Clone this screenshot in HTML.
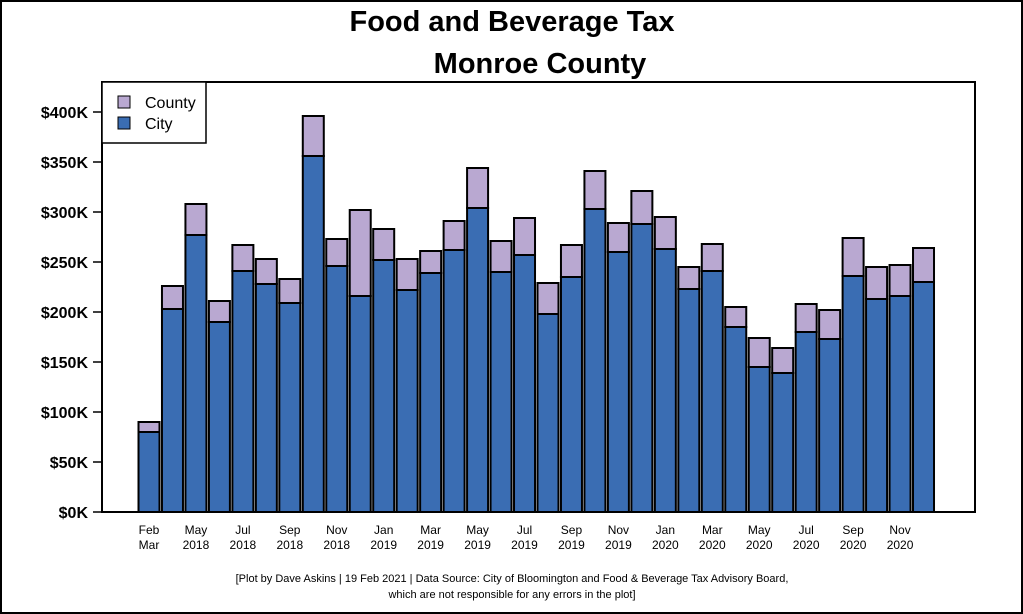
<!DOCTYPE html>
<html><head><meta charset="utf-8"><style>
body{margin:0;background:#fff;}
svg{display:block;font-family:"Liberation Sans",Arial,sans-serif;}
</style></head><body>
<svg id="chart" width="1023" height="614" viewBox="0 0 1023 614">
<rect x="1" y="1" width="1021" height="612" fill="#fff" stroke="#000" stroke-width="2"/>
<text x="512" y="31" text-anchor="middle" font-size="29" font-weight="bold">Food and Beverage Tax</text>
<text x="540" y="73" text-anchor="middle" font-size="29" font-weight="bold">Monroe County</text>
<rect x="102" y="82" width="873" height="430" fill="none" stroke="#000" stroke-width="2"/>
<g id="bars"></g>
<g id="yaxis"></g>
<g id="xaxis"></g>
<g>
<rect x="102" y="82" width="104" height="61" fill="#fff" stroke="#000" stroke-width="1.5"/>
<rect x="118" y="96" width="12" height="12" fill="#b9a8d1" stroke="#000"/>
<text x="145" y="108" font-size="16">County</text>
<rect x="118" y="117" width="12" height="12" fill="#3a6db3" stroke="#000"/>
<text x="145" y="129" font-size="16">City</text>
</g>
<text x="512" y="582" text-anchor="middle" font-size="11">[Plot by Dave Askins | 19 Feb 2021 | Data Source: City of Bloomington and Food &amp; Beverage Tax Advisory Board,</text>
<text x="512" y="598" text-anchor="middle" font-size="11">which are not responsible for any errors in the plot]</text>
</svg>
<script>
const cityValues=[80,203,277,190,241,228,209,356,246,216,252,222,239,262,304,240,257,198,235,303,260,288,263,223,241,185,145,139,180,173,236,213,216,230];
const totalValues=[90,226,308,211,267,253,233,396,273,302,283,253,261,291,344,271,294,229,267,341,289,321,295,245,268,205,174,164,208,202,274,245,247,264];
const xLabelTop=["Feb","May","Jul","Sep","Nov","Jan","Mar","May","Jul","Sep","Nov","Jan","Mar","May","Jul","Sep","Nov"];
const xLabelBottom=["Mar","2018","2018","2018","2018","2019","2019","2019","2019","2019","2019","2020","2020","2020","2020","2020","2020"];
const yTicks=[0,50,100,150,200,250,300,350,400];
const yLabels=["$0K","$50K","$100K","$150K","$200K","$250K","$300K","$350K","$400K"];
const NS="http://www.w3.org/2000/svg";
const y=v=>512-v;
const pitch=23.47, x0=138.5, bw=21;
const xb=i=>x0+i*pitch;
function mk(t,a,p){const e=document.createElementNS(NS,t);for(const k in a)e.setAttribute(k,a[k]);p.appendChild(e);return e;}
const bars=document.getElementById('bars');
cityValues.forEach((c,i)=>{
 const r=mk('rect',{x:xb(i),y:y(c),width:bw,height:c,fill:'#3a6db3',stroke:'#000','stroke-width':2},bars);
 
 
 const t=totalValues[i];
 const r2=mk('rect',{x:xb(i),y:y(t),width:bw,height:t-c,fill:'#b9a8d1',stroke:'#000','stroke-width':2},bars);
 
 
});
const ya=document.getElementById('yaxis');
yTicks.forEach((v,i)=>{
 mk('line',{x1:93,x2:102,y1:y(v),y2:y(v),stroke:'#000','stroke-width':1.5},ya);
 const t=mk('text',{x:88,y:y(v)+6,'text-anchor':'end','font-size':16,'font-weight':'bold'},ya);
 t.textContent=yLabels[i];
 
 
});
const xa=document.getElementById('xaxis');
xLabelTop.forEach((s,i)=>{
 const cx=xb(i*2)+bw/2;
 const a=mk('text',{x:cx,y:534,'text-anchor':'middle','font-size':12},xa);
 a.textContent=s;
 
 
 const b=mk('text',{x:cx,y:549,'text-anchor':'middle','font-size':12},xa);
 b.textContent=xLabelBottom[i];
 
 
});
</script>
</body></html>
